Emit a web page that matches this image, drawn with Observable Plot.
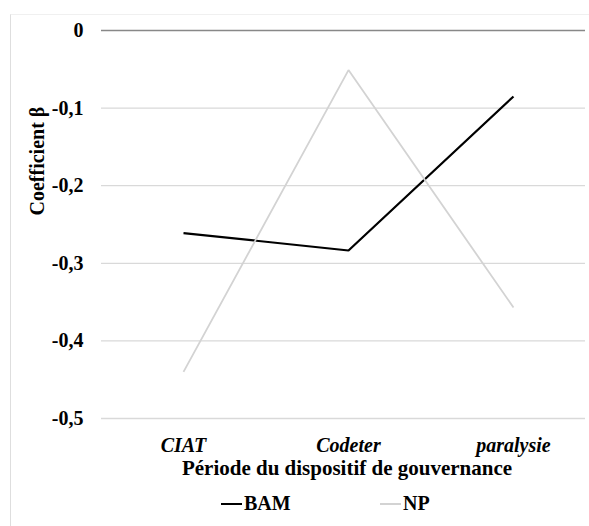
<!DOCTYPE html>
<html>
<head>
<meta charset="utf-8">
<script src="https://cdn.jsdelivr.net/npm/d3@7"></script>
<script src="https://cdn.jsdelivr.net/npm/@observablehq/plot@0.6"></script>
<style>
  body { margin: 0; background: #fff; }
  #wrap { position: relative; width: 589px; height: 526px; overflow: hidden; font-family: "Liberation Serif", "Times New Roman", serif; }
  #frame { position: absolute; left: 10px; top: 14px; width: 700px; height: 700px; border-left: 1px solid #dedede; border-top: 1px solid #f0f0f0; }
  #chart { position: absolute; left: 0; top: 0; }
  #xtitle { position: absolute; top: 456px; left: 147px; width: 400px; text-align: center; font-weight: bold; font-size: 21px; white-space: nowrap; }
  .leg { position: absolute; top: 492px; font-weight: bold; font-size: 20px; white-space: nowrap; }
  .sw { display: inline-block; width: 21px; height: 2px; vertical-align: middle; margin-right: 2px; position: relative; top: -1px; }
</style>
</head>
<body>
<div id="wrap">
  <div id="frame"></div>
  <div id="chart"></div>
  <div id="xtitle"></div>
  <div id="leg1" class="leg"></div>
  <div id="leg2" class="leg"></div>
</div>
<script>
const periods = ["CIAT", "Codeter", "paralysie"];
const bam = [-0.261, -0.2835, -0.085];
const np = [-0.440, -0.051, -0.357];
const yTicks = [0, -0.1, -0.2, -0.3, -0.4, -0.5];
const seriesNames = ["BAM", "NP"];
const seriesColors = ["#000000", "#d3d3d3"];
const yLabel = "Coefficient β";
const xLabel = "Période du dispositif de gouvernance";

const rows = [];
periods.forEach((p, i) => {
  rows.push({period: p, value: bam[i], series: seriesNames[0]});
  rows.push({period: p, value: np[i], series: seriesNames[1]});
});

const fmt = d => d === 0 ? "0" : d3.format(".1f")(d).replace(".", ",").replace("−", "-");

const chart = Plot.plot({
  width: 589,
  height: 462,
  marginLeft: 101,
  marginRight: 4,
  marginTop: 30,
  marginBottom: 44,
  style: {fontFamily: "'Liberation Serif', 'Times New Roman', serif", fontSize: "20px", fontWeight: "bold", color: "#000", background: "transparent"},
  x: {type: "point", domain: periods, range: [183, 513], padding: 0},
  y: {domain: [-0.5, 0]},
  color: {domain: seriesNames, range: seriesColors},
  marks: [
    Plot.ruleY(yTicks.filter(d => d !== 0), {stroke: "#d9d9d9", strokeWidth: 1.3}),
    Plot.ruleY([0], {stroke: "#888888", strokeWidth: 1.3}),
    Plot.axisY({ticks: yTicks, tickFormat: fmt, tickSize: 0, tickPadding: 18, label: null}),
    Plot.axisX({tickSize: 0, tickPadding: 19, label: null, fontStyle: "italic"}),
    Plot.line(rows, {x: "period", y: "value", z: "series", stroke: "series", strokeWidth: d => d.series === "BAM" ? 2.2 : 1.8, strokeLinejoin: "miter", strokeLinecap: "butt"}),
    Plot.text([yLabel], {frameAnchor: "left", rotate: -90, dx: -64, dy: -9, fontSize: 20, fontWeight: "bold"})
  ]
});
document.getElementById("chart").appendChild(chart);
document.getElementById("xtitle").textContent = xLabel;
[["leg1", 221], ["leg2", 380]].forEach(([id, left], i) => {
  const el = document.getElementById(id);
  el.style.left = left + "px";
  el.innerHTML = `<span class="sw" style="background:${seriesColors[i]}"></span>${seriesNames[i]}`;
});
</script>
</body>
</html>
